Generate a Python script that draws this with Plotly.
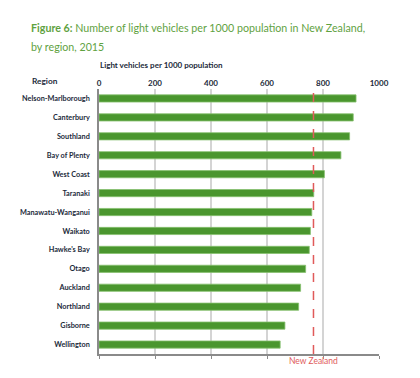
import plotly.graph_objects as go

regions = ["Nelson-Marlborough", "Canterbury", "Southland", "Bay of Plenty", "West Coast",
           "Taranaki", "Manawatu-Wanganui", "Waikato", "Hawke's Bay", "Otago",
           "Auckland", "Northland", "Gisborne", "Wellington"]
vehicles = [918, 908, 895, 864, 805, 767, 760, 755, 751, 738, 720, 713, 664, 647]
nz_average = 766
x_ticks = [0, 200, 400, 600, 800, 1000]

GREEN = "#4a962e"
TEXT = "#1c2a3a"
RED = "#e05a5a"
FONT = "Lato"

PW, PH = 287.8, 265.0  # plot area size in px

fig = go.Figure()
fig.add_trace(go.Bar(
    x=vehicles, y=regions, orientation="h",
    marker=dict(color=GREEN, line=dict(color="#86c06f", width=0.8)),
    hoverinfo="x+y",
))
# invisible trace to anchor the bottom axis
fig.add_trace(go.Scatter(x=[], y=[], xaxis="x2", showlegend=False))

fig.add_vline(x=nz_average, line=dict(color=RED, width=1.5, dash="dash"))

fig.update_layout(
    width=412, height=370,
    margin=dict(l=83.5, r=40.7, t=81, b=24, pad=0),
    paper_bgcolor="white", plot_bgcolor="white",
    showlegend=False,
    bargap=0.62,
    font=dict(family=FONT, color=TEXT, size=8),
    xaxis=dict(
        range=[0, 1000], side="top", tickvals=x_ticks,
        ticktext=[f"<b>{v}</b>" for v in x_ticks],
        showgrid=True, gridcolor="#d4d4d4", gridwidth=1.5,
        zeroline=False, showline=False, ticks="",
        tickfont=dict(size=8, color=TEXT, family=FONT),
        fixedrange=True,
    ),
    xaxis2=dict(
        range=[0, 1000], overlaying="x", side="bottom", tickvals=x_ticks,
        showticklabels=False, showgrid=False, zeroline=False,
        showline=True, linecolor="#8a8a8a", linewidth=1.5,
        ticks="outside", ticklen=3, tickcolor="#8a8a8a", tickwidth=1,
        matches="x",
    ),
    yaxis=dict(
        autorange="reversed", categoryorder="array", categoryarray=regions,
        showline=True, linecolor="#8a8a8a", linewidth=1.5,
        showgrid=False, zeroline=False, ticks="",
        ticktext=[f"<b>{r}</b>" for r in regions], tickvals=regions,
        tickfont=dict(size=7.3, color=TEXT, family=FONT),
        ticklabelstandoff=6,
    ),
    annotations=[
        dict(text="<b>Figure 6:</b> Number of light vehicles per 1000 population in New Zealand,",
             xref="paper", yref="paper", x=(20 - 91.5) / PW, y=1 + (89 - 27) / PH,
             xanchor="left", yanchor="middle", align="left", showarrow=False,
             font=dict(family=FONT, size=10.7, color="#5fa23f")),
        dict(text="by region, 2015",
             xref="paper", yref="paper", x=(20 - 91.5) / PW, y=1 + (89 - 46) / PH,
             xanchor="left", yanchor="middle", align="left", showarrow=False,
             font=dict(family=FONT, size=10.7, color="#5fa23f")),
        dict(text="<b>Light vehicles per 1000 population</b>",
             xref="paper", yref="paper", x=-0.003, y=1 + (89 - 65) / PH,
             xanchor="left", yanchor="middle", showarrow=False,
             font=dict(family=FONT, size=8, color=TEXT)),
        dict(text="<b>Region</b>",
             xref="paper", yref="paper", x=(21 - 91.5) / PW, y=1 + (89 - 81) / PH,
             xanchor="left", yanchor="middle", showarrow=False,
             font=dict(family=FONT, size=8.3, color=TEXT)),
        dict(text="New Zealand",
             xref="x", yref="paper", x=nz_average, y=-(361 - 354) / PH,
             xanchor="center", yanchor="middle", showarrow=False,
             font=dict(family=FONT, size=8.5, color=RED)),
    ],
)

fig.write_html("out.html")
